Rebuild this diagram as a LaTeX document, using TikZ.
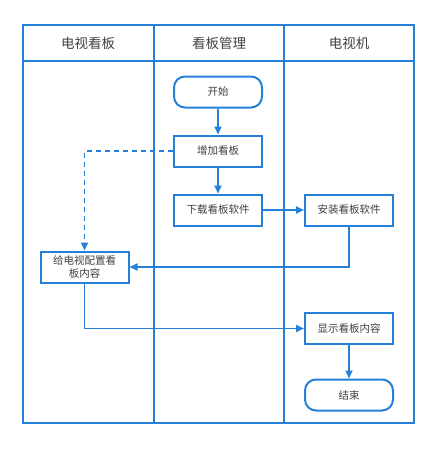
\documentclass[tikz,border=0pt]{standalone}
\usepackage{fontspec}
\setmainfont{Noto Sans CJK SC}
\usetikzlibrary{arrows.meta, positioning}
\definecolor{laneblue}{RGB}{36,128,216}
\definecolor{textgray}{RGB}{64,64,64}
\tikzset{
  lane/.style={draw=laneblue, line width=2pt},
  lanehead/.style={font=\fontsize{13.5}{15}\selectfont, text=textgray},
  task/.style={rectangle, draw=laneblue, fill=white, line width=2pt,
    minimum width=88pt, minimum height=31pt, align=center,
    font=\fontsize{10.5}{12.7}\selectfont, text=textgray, inner sep=2pt},
  terminal/.style={task, rounded corners=11pt},
  arr/.style={-{Triangle[length=8pt,width=7pt]}, line width=1.8pt, laneblue},
  arrdash/.style={arr, dash pattern=on 5pt off 4pt},
}
\begin{document}
\begin{tikzpicture}[x=1pt, y=-1pt, node distance=0.5cm]
\useasboundingbox (0,0) rectangle (440,450);

% Swimlanes
\draw[lane] (23,25) rectangle (414,423);
\draw[lane] (23,61) -- (414,61);
\draw[lane] (153.5,25) -- (153.5,423);
\draw[lane] (284,25) -- (284,423);
\node[lanehead] (tvboard) at (88,43) {电视看板};
\node[lanehead] (boardmgmt) at (219,43) {看板管理};
\node[lanehead] (tvset) at (349,43) {电视机};

\node[terminal] (start) at (218,92) {开始};
\node[task] (addboard) at (218,151) {增加看板};
\node[task] (download) at (218,210) {下载看板软件};
\node[task] (install) at (349,210) {安装看板软件};
\node[task] (configure) at (84.5,267) {给电视配置看\\板内容};
\node[task] (display) at (349,328.5) {显示看板内容};
\node[terminal] (finish) at (349,395) {结束};

\draw[arr] (start) -- (addboard);
\draw[arr] (addboard) -- (download);
\draw[arr] (download) -- (install);
\draw[arrdash] (addboard.west) -| (configure.north);
\draw[arr] (install.south) |- (configure.east);
\draw[arr] (configure.south) |- (display.west);
\draw[arr] (display) -- (finish);

\end{tikzpicture}
\end{document}
